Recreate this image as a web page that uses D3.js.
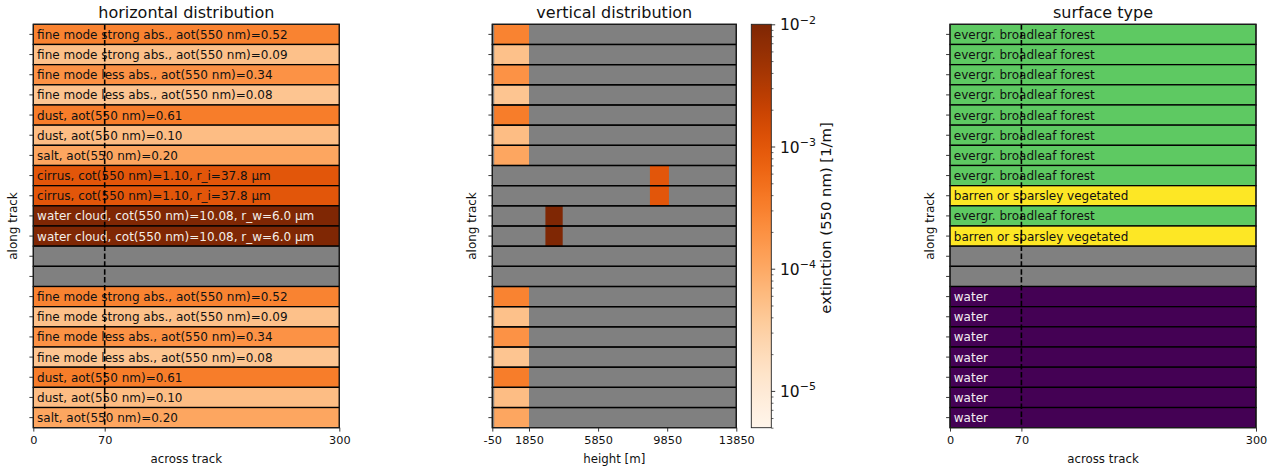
<!DOCTYPE html>
<html>
<head>
<meta charset="utf-8">
<script src="https://cdn.jsdelivr.net/npm/d3@7"></script>
<style>
  body { margin: 0; background: #fff; }
  text { font-family: "DejaVu Sans", sans-serif; }
</style>
</head>
<body>
<div id="chart"></div>
<script>
// ---- data ----
const rowLabels = [
  "fine mode strong abs., aot(550 nm)=0.52",
  "fine mode strong abs., aot(550 nm)=0.09",
  "fine mode less abs., aot(550 nm)=0.34",
  "fine mode less abs., aot(550 nm)=0.08",
  "dust, aot(550 nm)=0.61",
  "dust, aot(550 nm)=0.10",
  "salt, aot(550 nm)=0.20",
  "cirrus, cot(550 nm)=1.10, r_i=37.8 µm",
  "cirrus, cot(550 nm)=1.10, r_i=37.8 µm",
  "water cloud, cot(550 nm)=10.08, r_w=6.0 µm",
  "water cloud, cot(550 nm)=10.08, r_w=6.0 µm",
  "",
  "",
  "fine mode strong abs., aot(550 nm)=0.52",
  "fine mode strong abs., aot(550 nm)=0.09",
  "fine mode less abs., aot(550 nm)=0.34",
  "fine mode less abs., aot(550 nm)=0.08",
  "dust, aot(550 nm)=0.61",
  "dust, aot(550 nm)=0.10",
  "salt, aot(550 nm)=0.20"
];
// extinction at 550 nm [1/m] of the layer in each row (0 = nothing)
const rowExtinction = [2.9e-4, 5.0e-5, 1.9e-4, 4.4e-5, 3.4e-4, 5.6e-5, 1.1e-4,
  1.0e-3, 1.0e-3, 1.0e-2, 1.0e-2, 0, 0,
  2.9e-4, 5.0e-5, 1.9e-4, 4.4e-5, 3.4e-4, 5.6e-5, 1.1e-4];
// layer bottom / top height [m]
const layerBottom = [50, 50, 50, 50, 50, 50, 50, 8850, 8850, 2800, 2800, 0, 0,
  50, 50, 50, 50, 50, 50, 50];
const layerTop = [1850, 1850, 1850, 1850, 1850, 1850, 1850, 9950, 9950, 3800, 3800, 0, 0,
  1850, 1850, 1850, 1850, 1850, 1850, 1850];
const surfaceType = [
  "evergr. broadleaf forest", "evergr. broadleaf forest", "evergr. broadleaf forest",
  "evergr. broadleaf forest", "evergr. broadleaf forest", "evergr. broadleaf forest",
  "evergr. broadleaf forest", "evergr. broadleaf forest", "barren or sparsley vegetated",
  "evergr. broadleaf forest", "barren or sparsley vegetated", "", "",
  "water", "water", "water", "water", "water", "water", "water"
];
const surfaceNames = ["evergr. broadleaf forest", "barren or sparsley vegetated", "water", ""];
const surfaceColors = ["#5ec962", "#fde725", "#440154", "#808080"];
const acrossTicks = [0, 70, 300];
const heightTicks = [-50, 1850, 5850, 9850, 13850];
const cbarTicks = [1e-5, 1e-4, 1e-3, 1e-2];
const cbarDomain = [5e-6, 1e-2];
const sensorPos = 70;

// ---- layout ----
const width = 1274, height = 470;
const yTop = 24.3, yBottom = 427.7;
const leftBox = [33.3, 339.3], midBox = [492.3, 736.3], rightBox = [950, 1256], cbarBox = [751.3, 771.3];
const gray = "#808080";

const svg = d3.select("#chart").append("svg")
  .attr("width", width).attr("height", height);

const color = d3.scaleSequentialLog(d3.interpolateOranges).domain(cbarDomain);
const fillFor = e => e > 0 ? color(e) : gray;

const y = d3.scaleBand().domain(d3.range(rowLabels.length)).range([yTop, yBottom]);

function frame(box) {
  svg.append("rect")
    .attr("x", box[0]).attr("y", yTop)
    .attr("width", box[1] - box[0]).attr("height", yBottom - yTop)
    .attr("fill", "none").attr("stroke", "#222").attr("stroke-width", 0.9);
}

function yAxis(box) {
  const g = svg.append("g").attr("transform", `translate(${box[0]},0)`)
    .call(d3.axisLeft(y).tickFormat("").tickSize(3.9).tickSizeOuter(0));
  g.select(".domain").remove();
  g.selectAll(".tick line").attr("stroke", "#222").attr("stroke-width", 0.9);
  svg.append("text")
    .attr("transform", `translate(${box[0] - 16.5},${(yTop + yBottom) / 2}) rotate(-90)`)
    .attr("text-anchor", "middle").attr("font-size", 12).attr("fill", "#111")
    .text("along track");
}

function xAxis(scale, ticks, label) {
  const g = svg.append("g").attr("transform", `translate(0,${yBottom})`)
    .call(d3.axisBottom(scale).tickValues(ticks).tickFormat(d => String(d))
      .tickSize(3.9).tickPadding(4.5).tickSizeOuter(0));
  g.select(".domain").remove();
  g.selectAll(".tick line").attr("stroke", "#222").attr("stroke-width", 0.9);
  g.selectAll(".tick text").attr("font-size", 11.3).attr("fill", "#111")
    .attr("font-family", "DejaVu Sans");
  const r = scale.range();
  svg.append("text")
    .attr("x", (r[0] + r[r.length - 1]) / 2).attr("y", 462.5)
    .attr("text-anchor", "middle").attr("font-size", 11.8).attr("fill", "#111")
    .text(label);
}

function title(box, t) {
  svg.append("text")
    .attr("x", (box[0] + box[1]) / 2).attr("y", 18.3)
    .attr("text-anchor", "middle").attr("font-size", 16).attr("fill", "#111")
    .text(t);
}

function rowPanel(box, fills, labels, textColor) {
  const x = d3.scaleLinear().domain([0, 300]).range(box);
  const g = svg.append("g");
  g.selectAll("rect").data(fills).join("rect")
    .attr("x", x(0)).attr("width", x(300) - x(0))
    .attr("y", (d, i) => y(i)).attr("height", y.bandwidth())
    .attr("fill", d => d)
    .attr("stroke", "#000").attr("stroke-width", 1.3);
  g.selectAll("text").data(labels).join("text")
    .attr("x", x(0) + 3.8)
    .attr("y", (d, i) => y(i) + y.bandwidth() / 2)
    .attr("dy", "0.37em")
    .attr("font-size", 12)
    .attr("fill", (d, i) => textColor(i))
    .text(d => d);
  svg.append("line")
    .attr("x1", x(sensorPos)).attr("x2", x(sensorPos))
    .attr("y1", yTop).attr("y2", yBottom)
    .attr("stroke", "#000").attr("stroke-width", 1.6)
    .attr("stroke-dasharray", "5.5,2.4");
  frame(box);
  yAxis(box);
  xAxis(x, acrossTicks, "across track");
}

// ---- horizontal distribution ----
rowPanel(leftBox, rowExtinction.map(fillFor), rowLabels,
  i => rowExtinction[i] >= 5e-3 ? "#f4eee8" : "#111");
title(leftBox, "horizontal distribution");

// ---- vertical distribution ----
const xH = d3.scaleLinear()
  .domain([-50, 1850, 13850])
  .range([midBox[0], midBox[0] + (midBox[1] - midBox[0]) * 0.1504, midBox[1]]);

const layers = rowExtinction
  .map((e, i) => ({ e, i, lo: layerBottom[i], hi: layerTop[i] }))
  .filter(d => d.e > 0);

const mid = svg.append("g");
mid.selectAll("rect.bg").data(rowExtinction).join("rect").attr("class", "bg")
  .attr("x", xH(-50)).attr("width", xH(13850) - xH(-50))
  .attr("y", (d, i) => y(i)).attr("height", y.bandwidth())
  .attr("fill", gray);
mid.selectAll("rect.layer").data(layers).join("rect").attr("class", "layer")
  .attr("x", d => xH(d.lo))
  .attr("width", d => xH(d.hi) - xH(d.lo))
  .attr("y", d => y(d.i)).attr("height", y.bandwidth())
  .attr("fill", d => color(d.e));
mid.selectAll("rect.edge").data(rowExtinction).join("rect").attr("class", "edge")
  .attr("x", xH(-50)).attr("width", xH(13850) - xH(-50))
  .attr("y", (d, i) => y(i)).attr("height", y.bandwidth())
  .attr("fill", "none").attr("stroke", "#000").attr("stroke-width", 1.3);
frame(midBox);
yAxis(midBox);
xAxis(xH, heightTicks, "height [m]");
title(midBox, "vertical distribution");

// ---- colorbar ----
const cy = d3.scaleLog().domain(cbarDomain).range([yBottom, yTop]);
const defs = svg.append("defs");
const grad = defs.append("linearGradient").attr("id", "cbar")
  .attr("x1", 0).attr("x2", 0).attr("y1", 1).attr("y2", 0);
d3.range(0, 1.0001, 0.02).forEach(t => {
  grad.append("stop").attr("offset", t).attr("stop-color", d3.interpolateOranges(t));
});
svg.append("rect")
  .attr("x", cbarBox[0]).attr("y", yTop)
  .attr("width", cbarBox[1] - cbarBox[0]).attr("height", yBottom - yTop)
  .attr("fill", "url(#cbar)").attr("stroke", "#222").attr("stroke-width", 0.9);

const minor = cy.ticks().filter(v => !cbarTicks.some(m => Math.abs(m - v) / m < 1e-6));
svg.append("g").attr("transform", `translate(${cbarBox[1]},0)`)
  .call(d3.axisRight(cy).tickValues(minor).tickFormat("").tickSize(2.2).tickSizeOuter(0))
  .call(g => g.select(".domain").remove())
  .call(g => g.selectAll(".tick line").attr("stroke", "#222").attr("stroke-width", 0.7));
const cmaj = svg.append("g").attr("transform", `translate(${cbarBox[1]},0)`)
  .call(d3.axisRight(cy).tickValues(cbarTicks).tickFormat("").tickSize(3.9).tickSizeOuter(0));
cmaj.select(".domain").remove();
cmaj.selectAll(".tick line").attr("stroke", "#222").attr("stroke-width", 0.9);
cmaj.selectAll(".tick").append("text")
  .attr("x", 8.7).attr("dy", "0.36em").attr("font-size", 15.5).attr("fill", "#111")
  .attr("font-family", "DejaVu Sans")
  .each(function(d) {
    const t = d3.select(this);
    t.append("tspan").text("10");
    t.append("tspan").attr("font-size", 11).attr("dy", "-0.62em")
      .text("\u2212" + Math.round(-Math.log10(d)));
  });
svg.append("text")
  .attr("transform", `translate(831,${(yTop + yBottom) / 2 - 8}) rotate(-90)`)
  .attr("text-anchor", "middle").attr("font-size", 14.8).attr("fill", "#111")
  .text("extinction (550 nm) [1/m]");

// ---- surface type ----
const surfColor = d3.scaleOrdinal().domain(surfaceNames).range(surfaceColors);
rowPanel(rightBox, surfaceType.map(s => surfColor(s)), surfaceType,
  i => surfaceType[i] === "water" ? "#f2eef2" : "#111");
title(rightBox, "surface type");
</script>
</body>
</html>
